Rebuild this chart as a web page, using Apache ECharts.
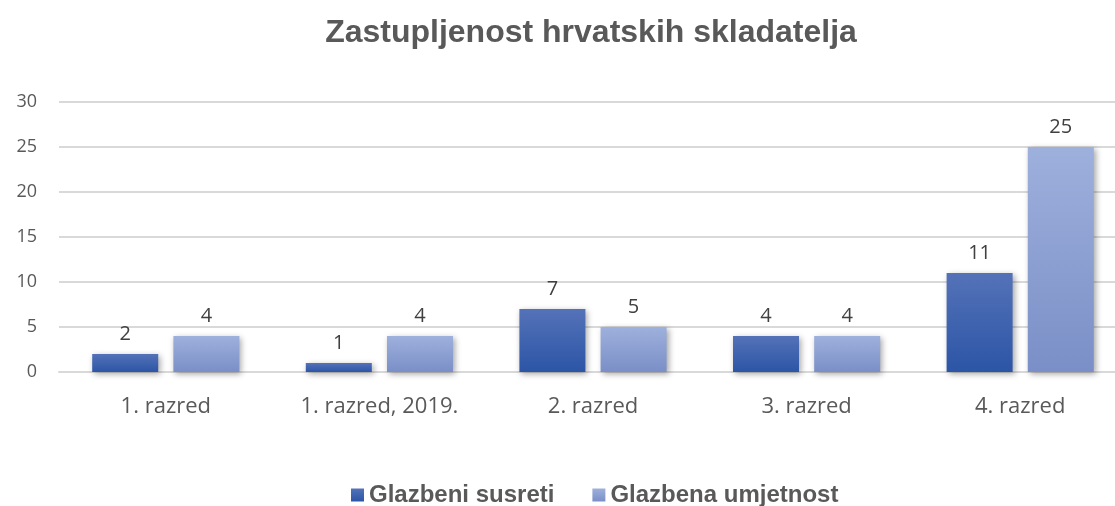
<!DOCTYPE html>
<html>
<head>
    <meta charset="utf-8">
    <title>Zastupljenost hrvatskih skladatelja</title>
    <style>
        html, body { margin: 0; padding: 0; background: #fff; }
        #chart { width: 1115px; height: 506px; }
    </style>
</head>
<body>
<div id="chart"></div>
<script src="https://cdn.jsdelivr.net/npm/echarts@6/dist/echarts.min.js"></script>
<script>
    // podaci
    var razredi = ['1. razred', '1. razred, 2019.', '2. razred', '3. razred', '4. razred'];
    var susreti = [2, 1, 7, 4, 11];
    var umjetnost = [4, 4, 5, 4, 25];
    var serije = ['Glazbeni susreti', 'Glazbena umjetnost'];

    var chart = echarts.init(document.getElementById('chart'));

    function grad(top, bottom) {
        return new echarts.graphic.LinearGradient(0, 0, 0, 1, [
            {offset: 0, color: top},
            {offset: 1, color: bottom}
        ]);
    }

    var labelStyle = {
        show: true,
        position: 'top',
        distance: 10,
        fontFamily: 'Open Sans, Arial, sans-serif',
        fontSize: 20,
        color: '#404040'
    };

    chart.setOption({
        animation: false,
        title: {
            text: 'Zastupljenost hrvatskih skladatelja',
            left: 586,
            textAlign: 'center',
            top: 12,
            textStyle: {
                fontFamily: 'Liberation Sans, Arial, sans-serif',
                fontSize: 32,
                fontWeight: 'bold',
                color: '#595959'
            }
        },
        legend: {
            data: serije,
            bottom: -6,
            left: 346,
            itemWidth: 13,
            itemHeight: 13,
            itemGap: 38,
            icon: 'rect',
            textStyle: {
                fontFamily: 'Liberation Sans, Arial, sans-serif',
                fontSize: 24,
                fontWeight: 'bold',
                color: '#595959'
            }
        },
        grid: {
            left: 59,
            width: 1068,
            top: 102,
            bottom: 134,
            containLabel: false,
            outerBoundsMode: 'none'
        },
        xAxis: {
            type: 'category',
            data: razredi,
            axisTick: {show: false},
            axisLine: {lineStyle: {color: '#d9d9d9', width: 2}},
            axisLabel: {
                margin: 24,
                fontFamily: 'Open Sans, Arial, sans-serif',
                fontSize: 22,
                color: '#595959'
            }
        },
        yAxis: {
            type: 'value',
            min: 0,
            max: 30,
            interval: 5,
            axisLine: {show: false},
            axisTick: {show: false},
            splitLine: {lineStyle: {color: '#d9d9d9', width: 2}},
            axisLabel: {
                margin: 22,
                fontFamily: 'Open Sans, Arial, sans-serif',
                fontSize: 18,
                color: '#595959'
            }
        },
        series: [
            {
                name: serije[0],
                type: 'bar',
                data: susreti,
                barWidth: 66,
                barGap: '23%',
                itemStyle: {
                    color: grad('#5472b8', '#2c55a6'),
                    shadowColor: 'rgba(0,0,0,0.35)',
                    shadowBlur: 6,
                    shadowOffsetX: 2,
                    shadowOffsetY: 2
                },
                label: labelStyle
            },
            {
                name: serije[1],
                type: 'bar',
                data: umjetnost,
                barWidth: 66,
                itemStyle: {
                    color: grad('#9eb0dc', '#7a8fc7'),
                    shadowColor: 'rgba(0,0,0,0.35)',
                    shadowBlur: 6,
                    shadowOffsetX: 2,
                    shadowOffsetY: 2
                },
                label: labelStyle
            }
        ]
    });
</script>
</body>
</html>
